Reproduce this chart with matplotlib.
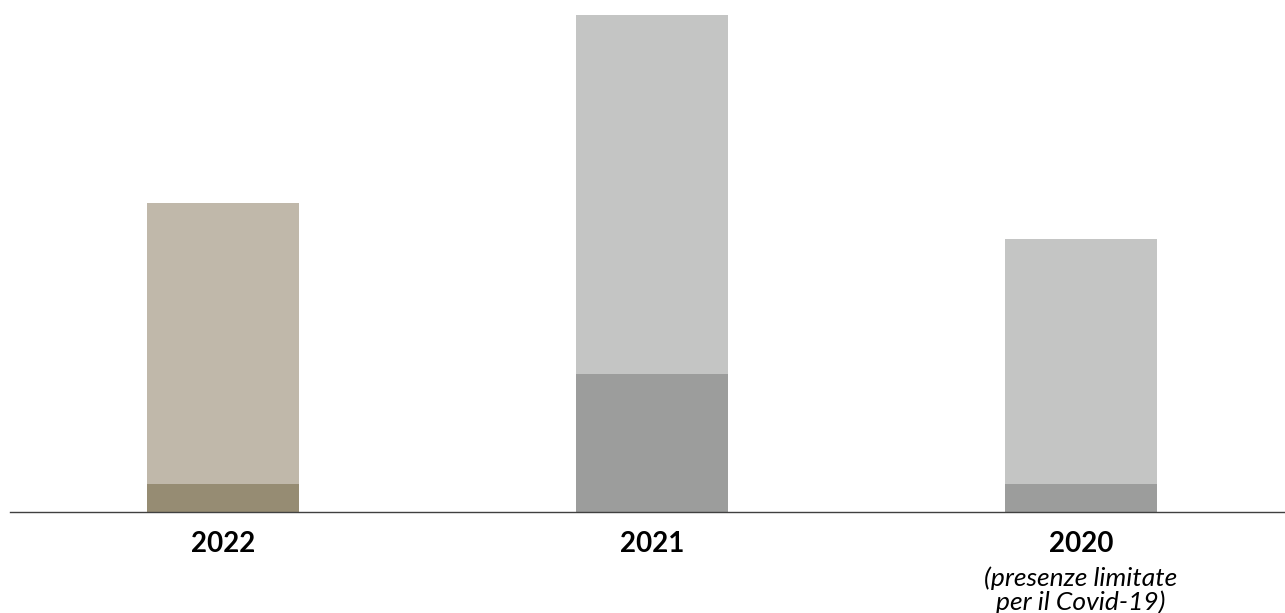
import matplotlib
matplotlib.use('Agg')
import matplotlib.pyplot as plt
from matplotlib.transforms import blended_transform_factory

plt.rcParams['font.family'] = ['Lato', 'DejaVu Sans']

years = ['2022', '2021', '2020']
totals = [62.1, 100.0, 54.9]
lower = [5.5, 27.7, 5.5]
upper = [t - l for t, l in zip(totals, lower)]

lower_colors = ['#968c73', '#9c9d9c', '#9c9d9c']
upper_colors = ['#c0b8aa', '#c4c5c4', '#c4c5c4']
note_lines = ['(presenze limitate', 'per il Covid-19)']

fig = plt.figure(figsize=(12.85, 6.13), dpi=100)
ax = fig.add_axes([10 / 1285, 1 - 511.5 / 613, 1 - 10 / 1285, 511.5 / 613])

x = list(range(len(years)))
ax.bar(x, lower, width=0.354, color=lower_colors, linewidth=0)
ax.bar(x, upper, bottom=lower, width=0.354, color=upper_colors, linewidth=0)

ax.set_xlim(-0.4965, 2.4755)
ax.set_ylim(0, 103.0)

for s in ['top', 'right', 'left']:
    ax.spines[s].set_visible(False)
ax.spines['bottom'].set_color('#404040')
ax.spines['bottom'].set_linewidth(1.0)
ax.set_yticks([])
ax.set_xticks([])

# offsets below the axis, in pixels
h = 511.5
trans = blended_transform_factory(ax.transData, ax.transAxes)
for i, y in enumerate(years):
    ax.text(i, -40.5 / h, y, transform=trans, ha='center', va='baseline',
            fontsize=20, fontweight='bold', color='black')
for line, off in zip(note_lines, [74.5, 98.5]):
    ax.text(2, -off / h, line, transform=trans, ha='center', va='baseline',
            fontsize=19, fontstyle='italic', color='black')

fig.savefig('out.png', dpi=100)
